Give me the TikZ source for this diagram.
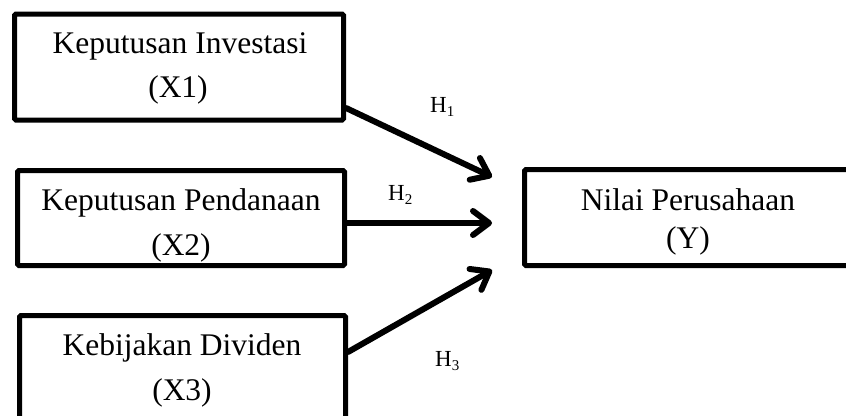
\documentclass[tikz,border=0pt]{standalone}
\usepackage{fontspec}
\setmainfont{Liberation Serif}
\usetikzlibrary{arrows.meta,calc}
\newcommand{\hsub}[1]{H\raisebox{-4.5pt}{\fontsize{15}{18}\selectfont #1}}
\begin{document}
\begin{tikzpicture}[x=1pt,y=-1pt,
  boxnode/.style={draw=black,line width=5pt,rounded corners=1.5pt,rectangle,inner sep=0pt,fill=white},
  txt/.style={inner sep=0pt,anchor=base,font=\fontsize{31.5}{36}\selectfont},
  hlab/.style={inner sep=0pt,anchor=base west,font=\fontsize{23}{26}\selectfont},
  arr/.style={line width=6pt,line cap=round,-{Straight Barb[length=16pt,width=24pt,line cap=round,line join=round]}}]
\useasboundingbox (0,0) rectangle (846,415);
\clip (0,0) rectangle (846,415);
% boxes
\node[boxnode,minimum width=329pt,minimum height=106pt] (b1) at (179,67) {};
\node[boxnode,minimum width=327pt,minimum height=95pt] (b2) at (181,218) {};
\node[boxnode,minimum width=326pt,minimum height=110pt] (b3) at (182.5,370.5) {};
\node[boxnode,minimum width=327pt,minimum height=96pt] (by) at (688,217.5) {};
% texts
\node[txt] (t1a) at (180,53) {Keputusan Investasi};
\node[txt] (t1b) at (178,97) {(X1)};
\node[txt] (t2a) at (181,210) {Keputusan Pendanaan};
\node[txt] (t2b) at (181,255) {(X2)};
\node[txt] (t3a) at (182,355) {Kebijakan Dividen};
\node[txt] (t3b) at (182,400) {(X3)};
\node[txt] (tya) at (688,210) {Nilai Perusahaan};
\node[txt] (tyb) at (688,248) {(Y)};
% arrow ends
\coordinate (e1) at (492,177);
\coordinate (e2) at (492,223);
\coordinate (e3) at (492,270);
\coordinate (s1y) at (0,108);
\coordinate (s3y) at (0,352);
\draw[arr] (b1.east |- s1y) -- (e1);
\draw[arr] (b2.east |- e2) -- (e2);
\draw[arr] (b3.east |- s3y) -- (e3);
% labels
\node[hlab] (h1) at (430,112) {\hsub{1}};
\node[hlab] (h2) at (388,200) {\hsub{2}};
\node[hlab] (h3) at (435,366) {\hsub{3}};
\end{tikzpicture}
\end{document}
